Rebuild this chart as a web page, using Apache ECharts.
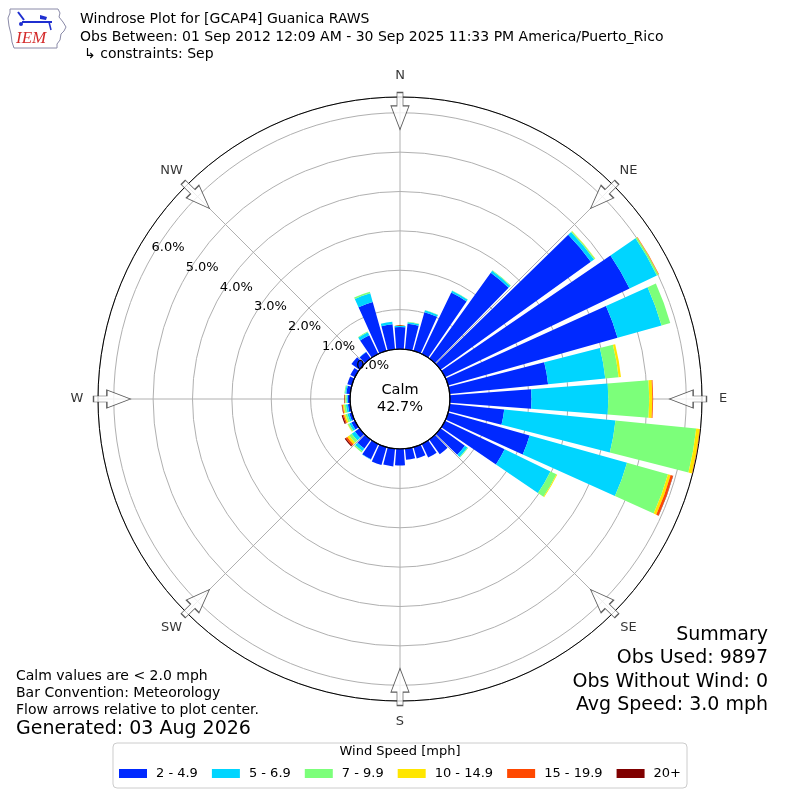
<!DOCTYPE html>
<html><head><meta charset="utf-8">
<script src="https://cdn.jsdelivr.net/npm/echarts@6/dist/echarts.min.js"></script>
<style>html,body{margin:0;padding:0;background:#fff}#c{width:800px;height:800px}</style>
</head><body><div id="c"></div>
<script>
// ---------------- data ----------------
const directions = ['0','10','20','30','40','50','60','70','80','90','100','110','120','130','140','150','160','170',
  '180','190','200','210','220','230','240','250','260','270','280','290','300','310','320','330','340','350'];
const speedBins = ['2 - 4.9','5 - 6.9','7 - 9.9','10 - 14.9','15 - 19.9','20+'];
const binColors = ['#0029ff','#00d5ff','#7cff7a','#ffe600','#ff4800','#800000'];
// percent of observations, per direction (N clockwise, 10 deg bins)
const s2to5   = [0.56,0.65,1.02,1.73,2.68,4.70,5.20,4.47,2.51,2.07,1.39,2.15,1.68,0.76,0.46,0.38,0.30,0.28,
                 0.42,0.45,0.47,0.43,0.28,0.14,0.10,0.07,0.06,0.06,0.10,0.12,0.13,0.25,0.20,0.53,1.29,0.64];
const s5to7   = [0.03,0.04,0.05,0.05,0.06,0.10,0.77,1.16,1.46,1.95,2.84,2.57,1.29,0.08,0,0,0,0,
                 0,0,0,0.01,0.08,0.10,0.06,0.05,0.05,0.03,0.03,0,0,0,0.01,0.08,0.23,0.06];
const s7to10  = [0,0.01,0.01,0.01,0.02,0.03,0.04,0.23,0.34,1.04,2.06,1.08,0.17,0.02,0,0,0,0,
                 0,0,0,0,0.04,0.08,0.04,0.05,0.05,0.03,0.02,0,0,0,0,0.02,0.04,0];
const s10to15 = [0,0,0,0,0,0.01,0.01,0,0.06,0.08,0.09,0.07,0.02,0,0,0,0,0,
                 0,0,0,0,0,0.06,0.01,0.04,0.03,0.01,0,0,0,0,0,0,0,0];
const s15to20 = [0,0,0,0,0,0,0.01,0,0,0.02,0.01,0.06,0,0,0,0,0,0,
                 0,0,0,0,0,0.05,0,0.03,0.02,0.01,0,0,0,0,0,0,0,0];
const s20plus = [0,0,0,0,0,0,0,0,0,0,0,0.01,0,0,0,0,0,0,
                 0,0,0,0,0,0.03,0,0.03,0.01,0.01,0,0,0,0,0,0,0,0];
const radialTicks = [0,1,2,3,4,5,6];
const radialTickLabels = ['0.0%','1.0%','2.0%','3.0%','4.0%','5.0%','6.0%'];
const compassAngles = [0,45,90,135,180,225,270,315];
const compassLabels = ['N','NE','E','SE','S','SW','W','NW'];
const calmPct = '42.7%';
const titleLines = ['Windrose Plot for [GCAP4] Guanica RAWS',
  'Obs Between: 01 Sep 2012 12:09 AM - 30 Sep 2025 11:33 PM America/Puerto_Rico',
  '\u21b3 constraints: Sep'];
const notesLines = ['Calm values are < 2.0 mph','Bar Convention: Meteorology','Flow arrows relative to plot center.'];
const generatedText = 'Generated: 03 Aug 2026';
const summaryLines = ['Summary','Obs Used: 9897','Obs Without Wind: 0','Avg Speed: 3.0 mph'];
const legendTitle = 'Wind Speed [mph]';
const radiusMax = 6.4;

// ---------------- chart ----------------
const FONT = 'DejaVu Sans';
const CENTER = [400, 399];
const chart = echarts.init(document.getElementById('c'));
const hidden = {axisLine:{show:false},axisTick:{show:false},axisLabel:{show:false},splitLine:{show:false}};
const binSeries = [s2to5, s5to7, s7to10, s10to15, s15to20, s20plus];

const series = binSeries.map((d, i) => ({
  type:'bar', name:speedBins[i], coordinateSystem:'polar', polarIndex:0, stack:'w',
  data:d, itemStyle:{color:binColors[i]}, barCategoryGap:'14%', silent:true
}));
// helper (invisible) points for radial tick label anchors
const RADIAL_SERIES = series.length;
series.push({
  type:'scatter', coordinateSystem:'polar', polarIndex:2, silent:true,
  symbolSize:0, itemStyle:{color:'rgba(0,0,0,0)'},
  data: radialTicks.map(v => [v, 300])
});
// compass labels
series.push({
  type:'scatter', coordinateSystem:'polar', polarIndex:3, z:6, silent:true,
  symbolSize:1, itemStyle:{color:'rgba(0,0,0,0)'},
  data: compassAngles.map(a => [1, a]),
  label:{show:true, position:'inside', color:'#000', fontFamily:FONT, fontSize:13,
         formatter:p => compassLabels[p.dataIndex]}
});
// flow arrows
series.push({
  type:'scatter', coordinateSystem:'polar', polarIndex:4, z:5, silent:true,
  symbol:'path://M-3,-18L3,-18L3,-5L9,-5L0,18L-9,-5L-3,-5Z', symbolSize:[18,37],
  itemStyle:{color:'#fff', borderColor:'#333', borderWidth:1},
  data: compassAngles.map(a => ({value:[1, a], symbolRotate:-a}))
});

const valAngle = (idx, extra) => Object.assign({polarIndex:idx, type:'value', min:0, max:360, interval:45,
  startAngle:90, clockwise:true}, hidden, extra || {});
const valRadius = (idx, max) => Object.assign({polarIndex:idx, type:'value', min:0, max:max}, hidden);

function txt(text, x, y, size, align, extra) {
  return Object.assign({type:'text', x:x, y:y, silent:true, z:100,
    style:{text:text, font:size + 'px "' + FONT + '"', fill:'#000', textAlign:align || 'left', textVerticalAlign:'middle'}}, extra || {});
}
const graphics = [];
graphics.push(txt(titleLines[0], 80, 19, 14));
graphics.push(txt(titleLines[1], 80, 37, 14));
graphics.push(txt(titleLines[2], 84, 54, 14));
notesLines.forEach((t, i) => graphics.push(txt(t, 16, 676 + 17 * i, 14)));
graphics.push(txt(generatedText, 16, 729, 19));
summaryLines.forEach((t, i) => graphics.push(txt(t, 768, 635 + 23.3 * i, 19, 'right')));
graphics.push(txt('Calm', 400, 390, 14.5, 'center'));
graphics.push(txt(calmPct, 400, 407, 14.5, 'center'));
graphics.push(txt(legendTitle, 400, 752, 13, 'center'));
// IEM logo
graphics.push({type:'polyline', silent:true, z:10, shape:{points:[[10,9],[58,9],[60,13],[59,17],[63,22],[66,27],[64,31],[61,34],[60,40],[57,44],[57,48],[14,48],[12,42],[11,34],[9,26],[8,18],[10,13],[10,9]]},
  style:{stroke:'#8a8aa8', lineWidth:1, fill:null}});
graphics.push({type:'line', silent:true, z:10, shape:{x1:22,y1:22,x2:52,y2:22}, style:{stroke:'#1f2fd0', lineWidth:2}});
graphics.push({type:'line', silent:true, z:10, shape:{x1:18,y1:12,x2:24,y2:20}, style:{stroke:'#1f2fd0', lineWidth:2}});
graphics.push({type:'polygon', silent:true, z:10, shape:{points:[[40,15],[47,17],[46,20],[40,19]]}, style:{fill:'#1f2fd0'}});
graphics.push({type:'circle', silent:true, z:10, shape:{cx:21,cy:24,r:2}, style:{fill:'#1f2fd0'}});
graphics.push({type:'line', silent:true, z:10, shape:{x1:49,y1:22,x2:51,y2:30}, style:{stroke:'#1f2fd0', lineWidth:1.5}});
graphics.push({type:'text', x:16, y:39, silent:true, z:10,
  style:{text:'IEM', font:'italic 17px "Liberation Serif"', fill:'#d42a2a', textAlign:'left', textVerticalAlign:'middle'}});

chart.setOption({
  animation:false,
  backgroundColor:'#fff',
  polar:[
    {center:CENTER, radius:[50,302]},
    {center:CENTER, radius:[0,50]},
    {center:CENTER, radius:[50,302]},
    {center:CENTER, radius:[0,323]},
    {center:CENTER, radius:[0,288]}
  ],
  angleAxis:[
    Object.assign({polarIndex:0, type:'category', data:directions, startAngle:95, clockwise:true, boundaryGap:true},
      hidden, {axisLine:{show:true, lineStyle:{color:'#000', width:1}}}),
    valAngle(1, {z:4, axisLine:{show:true, lineStyle:{color:'#000', width:1.2}}}),
    valAngle(2, {splitLine:{show:true, lineStyle:{color:'#b0b0b0', width:1}}}),
    valAngle(3),
    valAngle(4)
  ],
  radiusAxis:[
    Object.assign({polarIndex:0, type:'value', min:0, max:radiusMax, interval:1}, hidden,
      {splitLine:{show:true, lineStyle:{color:'#b0b0b0', width:1}}}),
    valRadius(1, 1),
    valRadius(2, radiusMax),
    valRadius(3, 1),
    valRadius(4, 1)
  ],
  legend:{
    data:speedBins, top:743, left:'center', orient:'horizontal', selectedMode:false,
    icon:'rect', itemWidth:28, itemHeight:9, itemGap:14,
    padding:[24,6,8,6], borderColor:'#cccccc', borderWidth:1, borderRadius:4, backgroundColor:'#fff',
    textStyle:{fontFamily:FONT, fontSize:13, color:'#000', padding:[0,0,0,4]}
  },
  series:series
});

// radial tick labels: anchor from the library's polar scale, drawn on top of bars
radialTicks.forEach((v, i) => {
  const p = chart.convertToPixel({seriesIndex:RADIAL_SERIES}, [v, 300]);
  if (p) graphics.push(txt(radialTickLabels[i], p[0] + 16, p[1] - 8, 13, 'center'));
});
chart.setOption({graphic:graphics});
</script></body></html>
